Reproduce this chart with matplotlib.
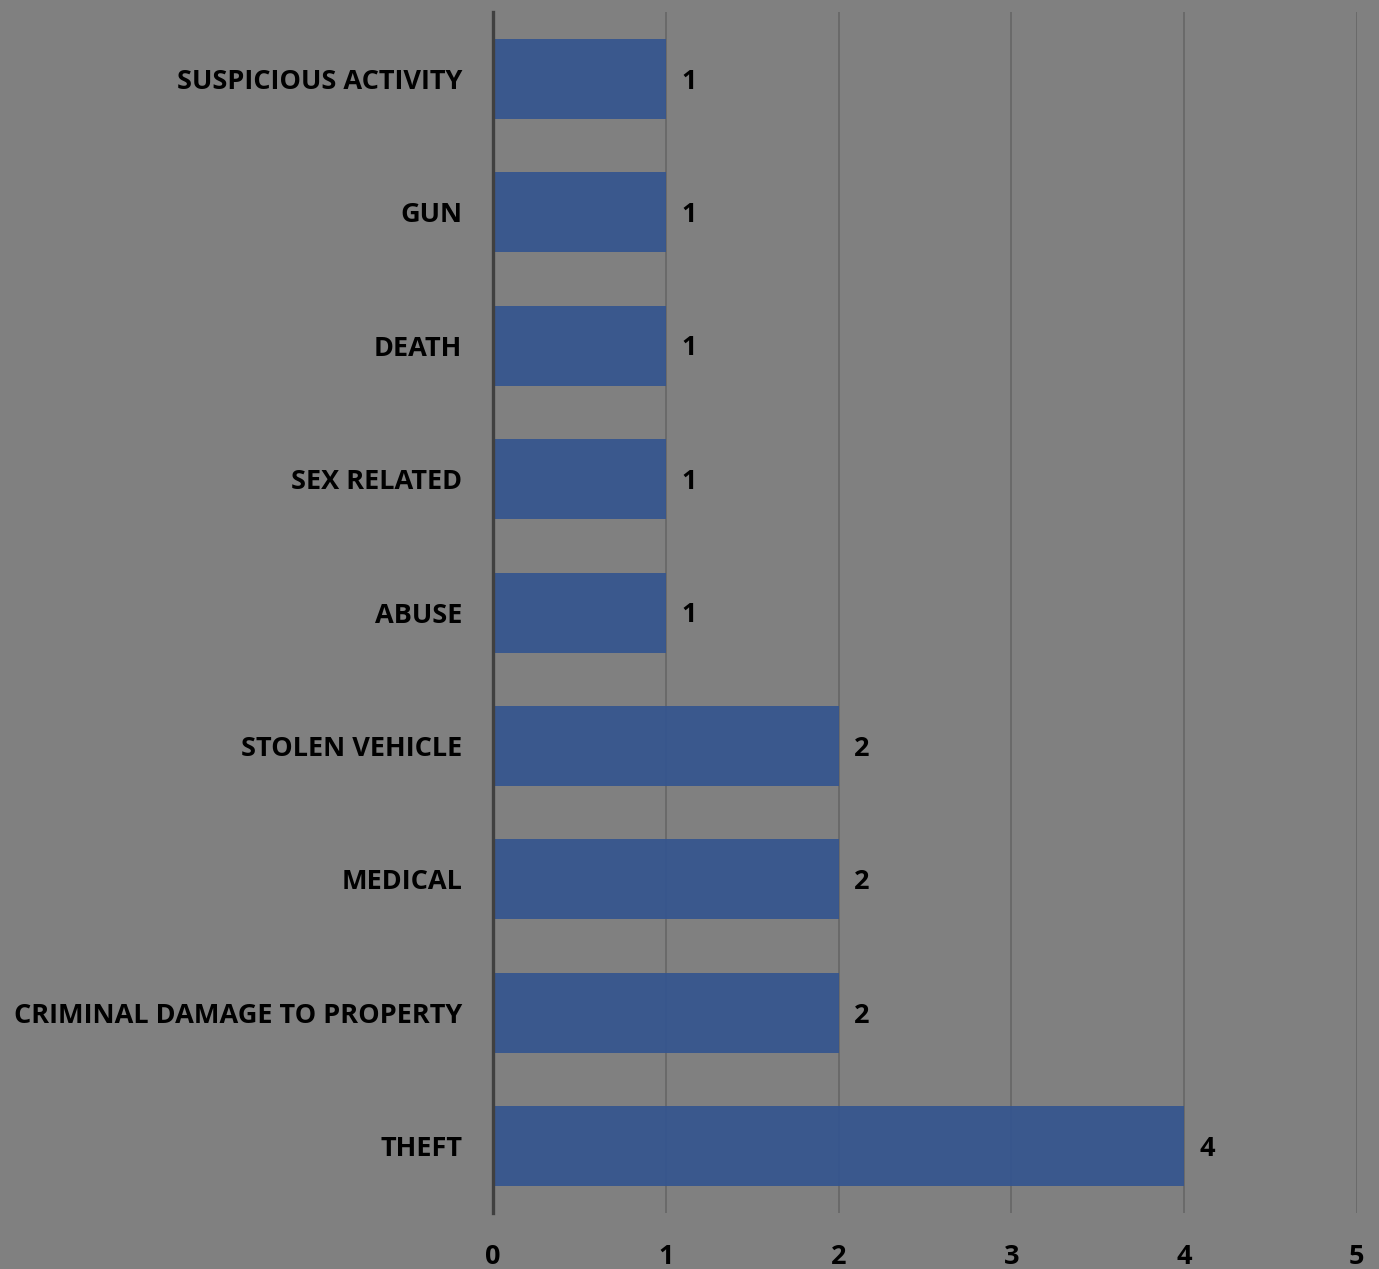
"""Incident counts by category, horizontal bar chart on a grey background."""

import matplotlib
matplotlib.use("Agg")
import matplotlib.pyplot as plt

# --- Data ---------------------------------------------------------------
categories = [
    "THEFT",
    "CRIMINAL DAMAGE TO PROPERTY",
    "MEDICAL",
    "STOLEN VEHICLE",
    "ABUSE",
    "SEX RELATED",
    "DEATH",
    "GUN",
    "SUSPICIOUS ACTIVITY",
]
counts = [4, 2, 2, 2, 1, 1, 1, 1, 1]
x_ticks = [0, 1, 2, 3, 4, 5]

# --- Styling ------------------------------------------------------------
BG = "#808080"
BAR = "#35558f"
GRID = "#686868"
AXIS = "#404040"
FONT = ["Open Sans", "DejaVu Sans"]
FS = 19.5

plt.rcParams.update({
    "font.family": FONT,
    "font.weight": "bold",
})

fig = plt.figure(figsize=(13.79, 12.69), dpi=100, facecolor=BG)
ax = fig.add_axes([0.3575, 0.0441, 0.6265, 0.9464], facecolor=BG)

ax.barh(range(len(categories)), counts, height=0.6, color=BAR,
        alpha=0.93, zorder=3)

for i, v in enumerate(counts):
    ax.annotate(str(v), xy=(v, i), xytext=(11, -2), textcoords="offset points",
                va="center", ha="left", fontsize=FS, fontweight="bold",
                color="black")

ax.set_xlim(0, 5)
ax.set_ylim(-0.5, len(categories) - 0.5)
ax.set_xticks(x_ticks)
ax.set_xticklabels([str(t) for t in x_ticks], fontsize=FS, fontweight="bold")
ax.set_yticks(range(len(categories)))
ax.set_yticklabels(categories, fontsize=FS, fontweight="bold")

ax.tick_params(axis="x", length=0, pad=22, colors="black")
ax.tick_params(axis="y", length=0, pad=22, colors="black")

ax.xaxis.grid(True, color=GRID, linewidth=1.3, zorder=1)
ax.yaxis.grid(False)
ax.set_axisbelow(True)

for side in ("top", "right", "bottom"):
    ax.spines[side].set_visible(False)
ax.spines["left"].set_color(AXIS)
ax.spines["left"].set_linewidth(2.4)
ax.spines["left"].set_zorder(4)

fig.savefig("out.png", dpi=100, facecolor=BG)
